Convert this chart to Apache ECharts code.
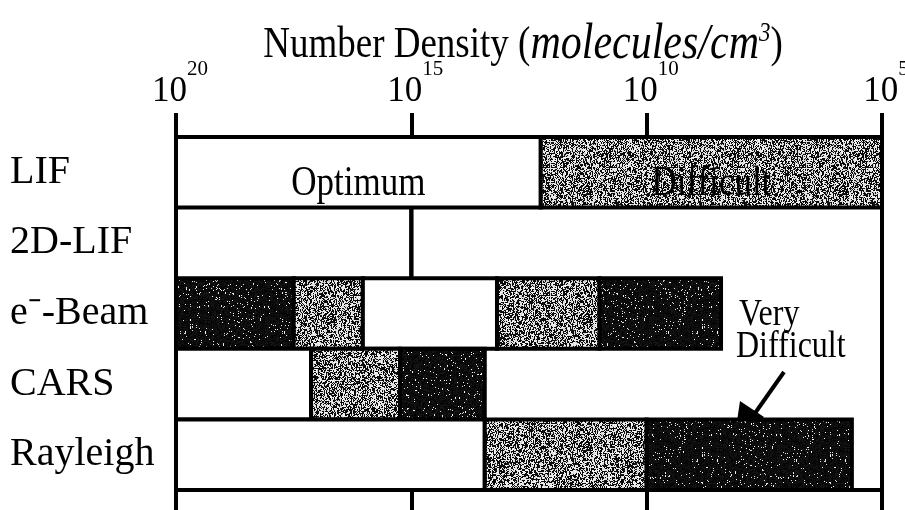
<!DOCTYPE html>
<html>
<head>
<meta charset="utf-8">
<script src="https://cdn.jsdelivr.net/npm/echarts@6/dist/echarts.min.js"></script>
<style>
  html, body { margin: 0; padding: 0; background: #fff; }
  #chart { width: 905px; height: 510px; }
</style>
</head>
<body>
<div id="chart"></div>
<script>
// Diagnostic methods (rows, top to bottom)
const methods = ['LIF', '2D-LIF', 'e⁻-Beam', 'CARS', 'Rayleigh'];
// Decade ticks, as log10 of number density (molecules/cm³)
const densityTicks = [20, 15, 10, 5];

// Range edges for each method (log10 molecules/cm³) and the rating of each span
const lifEdges = [20, 12.25, 5];
const lifRatings = ['Optimum', 'Difficult'];
const lif2dEdges = [20, 15, 5];
const lif2dRatings = ['none', 'none'];
const ebeamEdges = [20, 17.5, 16.03, 13.18, 11.0, 8.42];
const ebeamRatings = ['Very Difficult', 'Difficult', 'Optimum', 'Difficult', 'Very Difficult'];
const carsEdges = [20, 17.13, 15.24, 13.44];
const carsRatings = ['Optimum', 'Difficult', 'Very Difficult'];
const rayleighEdges = [20, 13.44, 10, 5.64];
const rayleighRatings = ['Optimum', 'Difficult', 'Very Difficult'];

const SERIF = '"Liberation Serif", "Times New Roman", Times, serif';

// Print-style stipple textures for the shaded ratings
function hash(n) {
  n = (n ^ 61) ^ (n >>> 16);
  n = Math.imul(n, 9);
  n ^= n >>> 4;
  n = Math.imul(n, 0x27d4eb2d);
  n ^= n >>> 15;
  return (n >>> 0) / 4294967296;
}
function stipple(darkShare, seed) {
  const size = 128;
  const c = document.createElement('canvas');
  c.width = size; c.height = size;
  const g = c.getContext('2d');
  const img = g.createImageData(size, size);
  for (let y = 0; y < size; y++) {
    for (let x = 0; x < size; x++) {
      const i = y * size + x;
      // mix a fine grain with a coarser vertical streak
      const fine = hash(i * 7 + seed);
      const streak = hash((Math.floor(y / 3) * size + x) * 13 + seed);
      const h = 0.6 * fine + 0.4 * streak;
      const v = h < darkShare
        ? Math.floor(hash(i + seed * 3) * 25)
        : 205 + Math.floor(hash(i * 3 + seed) * 50);
      img.data[i * 4] = v; img.data[i * 4 + 1] = v; img.data[i * 4 + 2] = v; img.data[i * 4 + 3] = 255;
    }
  }
  g.putImageData(img, 0, 0);
  return { image: c, repeat: 'repeat' };
}
const ratingFill = {
  'Optimum': '#ffffff',
  'Difficult': stipple(0.5, 17),
  'Very Difficult': stipple(0.86, 101)
};

// Build one item per span
const rows = [
  [lifEdges, lifRatings],
  [lif2dEdges, lif2dRatings],
  [ebeamEdges, ebeamRatings],
  [carsEdges, carsRatings],
  [rayleighEdges, rayleighRatings]
];
const spans = [];
rows.forEach(function (r, rowIdx) {
  const edges = r[0], ratings = r[1];
  for (let i = 0; i < ratings.length; i++) {
    spans.push({ value: [rowIdx, edges[i], edges[i + 1]], rating: ratings[i] });
  }
});

const chart = echarts.init(document.getElementById('chart'), null, { renderer: 'canvas' });

function renderSpan(params, api) {
  const row = api.value(0);
  const p0 = api.coord([api.value(1), row]);
  const p1 = api.coord([api.value(2), row]);
  const h = api.size([0, 1])[1];
  const x0 = Math.min(p0[0], p1[0]);
  const x1 = Math.max(p0[0], p1[0]);
  const top = p0[1] - h / 2;
  const rating = spans[params.dataIndex].rating;
  const lineStyle = { stroke: '#000', lineWidth: 4 };
  if (rating === 'none') {
    return {
      type: 'group',
      children: [
        { type: 'line', shape: { x1: x0, y1: top, x2: x0, y2: top + h }, style: lineStyle },
        { type: 'line', shape: { x1: x1, y1: top, x2: x1, y2: top + h }, style: lineStyle }
      ]
    };
  }
  const children = [{
    type: 'rect',
    shape: { x: x0, y: top, width: x1 - x0, height: h },
    style: { fill: ratingFill[rating], stroke: '#000', lineWidth: 4 }
  }];
  // the first row carries the rating names
  if (row === 0) {
    children.push({
      type: 'text',
      x: (x0 + x1) / 2,
      y: top + h / 2 + 12,
      scaleY: 1.18,
      style: {
        text: rating,
        fontFamily: SERIF,
        fontSize: 35,
        fill: '#000',
        align: 'center',
        verticalAlign: 'middle'
      }
    });
  }
  return { type: 'group', children: children };
}

const axisCommon = {
  type: 'value',
  min: 5,
  max: 20,
  interval: 5,
  inverse: true,
  splitLine: { show: false },
  axisLine: { show: true, onZero: false, lineStyle: { color: '#000', width: 4 } },
  axisTick: { show: true, length: 24, lineStyle: { color: '#000', width: 4 } }
};

chart.setOption({
  animation: false,
  backgroundColor: '#fff',
  grid: {
    left: 176, right: 23, top: 137, bottom: 20,
    outerBoundsMode: 'none',
    containLabel: false,
    show: true, borderColor: '#000', borderWidth: 4, backgroundColor: 'transparent'
  },
  xAxis: [
    Object.assign({}, axisCommon, {
      position: 'top',
      axisLabel: {
        show: true,
        margin: 13,
        showMinLabel: true,
        showMaxLabel: true,
        formatter: function (v) { return '{b|10}{e|' + v + '}'; },
        rich: {
          b: { fontFamily: SERIF, fontSize: 35, color: '#000', padding: [0, 0, 0, 8] },
          e: { fontFamily: SERIF, fontSize: 21, color: '#000', padding: [0, 0, 44, 0] }
        }
      }
    }),
    Object.assign({}, axisCommon, {
      position: 'bottom',
      axisLabel: { show: false }
    })
  ],
  yAxis: {
    type: 'category',
    data: methods,
    inverse: true,
    axisLine: { show: false },
    axisTick: { show: false },
    splitLine: { show: false },
    axisLabel: {
      align: 'left',
      margin: 166,
      fontFamily: SERIF,
      fontSize: 40,
      color: '#000'
    }
  },
  series: [{
    type: 'custom',
    name: 'Range',
    xAxisIndex: 0,
    yAxisIndex: 0,
    clip: false,
    renderItem: renderSpan,
    encode: { x: [1, 2], y: 0 },
    data: spans
  }],
  graphic: [
    {
      type: 'text',
      x: 523, y: 45,
      scaleY: 1.22,
      style: {
        text: 'Number Density ({i|molecules/cm}{s|3})',
        fontFamily: SERIF, fontSize: 37, fill: '#000',
        align: 'center', verticalAlign: 'middle',
        rich: {
          i: { fontFamily: SERIF, fontSize: 42, fontStyle: 'italic', fill: '#000' },
          s: { fontFamily: SERIF, fontSize: 23, fontStyle: 'italic', fill: '#000', padding: [0, 0, 18, 0] }
        }
      }
    },
    {
      type: 'text', x: 739, y: 315, scaleY: 1.18,
      style: { text: 'Very', fontFamily: SERIF, fontSize: 32, fill: '#000', align: 'left', verticalAlign: 'middle' }
    },
    {
      type: 'text', x: 736, y: 347, scaleY: 1.18,
      style: { text: 'Difficult', fontFamily: SERIF, fontSize: 32, fill: '#000', align: 'left', verticalAlign: 'middle' }
    },
    {
      type: 'polyline',
      shape: { points: [[784, 372], [753, 416]] },
      style: { stroke: '#000', lineWidth: 4 }
    },
    {
      type: 'polygon',
      shape: { points: [[764, 417], [740, 401], [733, 448]] },
      style: { fill: '#000' }
    }
  ]
});
</script>
</body>
</html>
